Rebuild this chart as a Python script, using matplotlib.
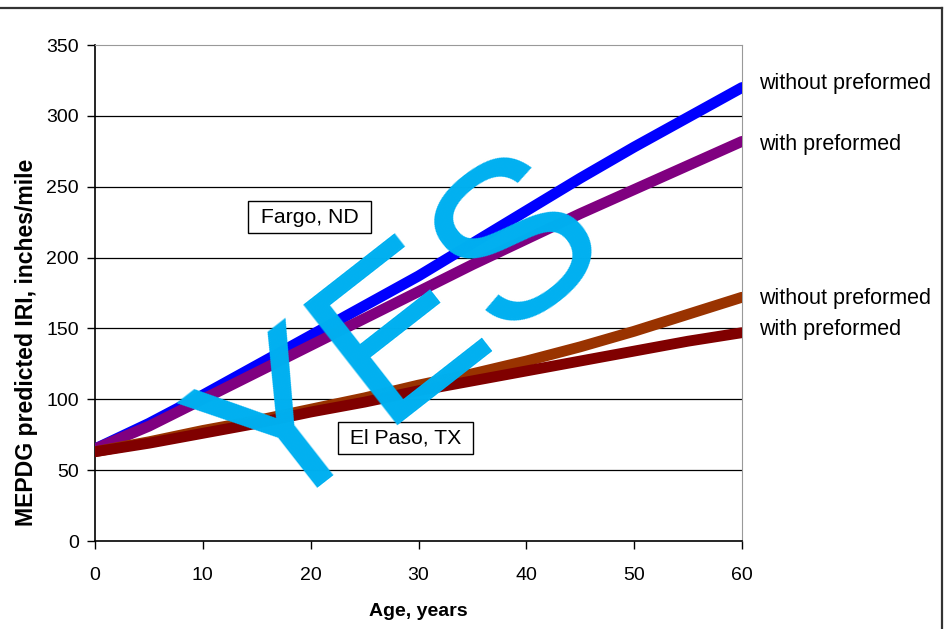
import matplotlib
matplotlib.use("Agg")
import matplotlib.pyplot as plt
from matplotlib.lines import Line2D

plt.rcParams["font.family"] = ["Liberation Sans", "DejaVu Sans"]

# IRI predictions (inches/mile) vs pavement age
age = [0, 5, 10, 15, 20, 25, 30, 35, 40, 45, 50, 55, 60]
fargo_without = [65, 83, 103, 124, 145, 166, 187, 210, 233, 256, 278, 299, 320]
fargo_with = [65, 81, 100, 119, 138, 157, 176, 195, 213, 231, 248, 265, 282]
elpaso_without = [63, 70, 78, 85, 93, 101, 110, 118, 127, 137, 148, 160, 172]
elpaso_with = [63, 69, 76, 83, 91, 98, 106, 113, 120, 127, 134, 141, 147]

series = [
    (fargo_without, "#0000FF", "without preformed", 323),
    (fargo_with, "#800080", "with preformed", 279.5),
    (elpaso_without, "#993300", "without preformed", 171),
    (elpaso_with, "#800000", "with preformed", 149),
]

fig = plt.figure(figsize=(9.49, 6.29), dpi=100)
W, H = 949, 629
ax = fig.add_axes([95 / W, 1 - 541 / H, (742 - 95) / W, (541 - 45) / H])

for vals, color, label, ylab in series:
    ax.plot(age, vals, color=color, lw=7.8, solid_capstyle="round",
            solid_joinstyle="round", zorder=3)
    ax.text(61.6, ylab, label, fontsize=15.5, ha="left", va="center",
            clip_on=False)

ax.set_xlim(0, 60)
ax.set_ylim(0, 350)
ax.set_xticks(range(0, 61, 10))
ax.set_yticks(range(0, 351, 50))
ax.tick_params(axis="both", direction="out", length=5.5, width=1,
               labelsize=14, colors="black")
ax.tick_params(axis="y", pad=6)
ax.tick_params(axis="x", pad=13)
for y in range(50, 301, 50):
    ax.axhline(y, color="black", lw=0.9, zorder=1)
ax.spines["top"].set_color("#999999")
ax.spines["right"].set_color("#999999")
ax.spines["left"].set_linewidth(1.2)
ax.spines["bottom"].set_linewidth(1.2)

box = dict(boxstyle="square,pad=0.3", fc="white", ec="black", lw=1)
ax.text(19.9, 228.6, " Fargo, ND ", fontsize=15.3, ha="center", va="center",
        bbox=box, zorder=4)
ax.text(28.8, 72.7, " El Paso, TX ", fontsize=15.3, ha="center", va="center",
        bbox=box, zorder=4)

# watermark
ax.text(32.1, 108, "YES", fontsize=160, color="#00B0F0", rotation=38,
        rotation_mode="anchor", ha="center", va="baseline", zorder=6)

fig.text(418.5 / W, 1 - 612 / H, "Age, years", fontsize=14,
         fontweight="bold", ha="center", va="center")
fig.text(27 / W, 1 - 342.5 / H, "MEPDG predicted IRI, inches/mile",
         fontsize=16.6, fontweight="bold", rotation=90, ha="center",
         va="center")

# outer frame (top and right edges)
fig.add_artist(Line2D([0, 942 / W], [1 - 8 / H, 1 - 8 / H],
                      transform=fig.transFigure, color="#333333", lw=1.6))
fig.add_artist(Line2D([942 / W, 942 / W], [1 - 8 / H, 0],
                      transform=fig.transFigure, color="#333333", lw=1.6))

fig.savefig("out.png", dpi=100)
